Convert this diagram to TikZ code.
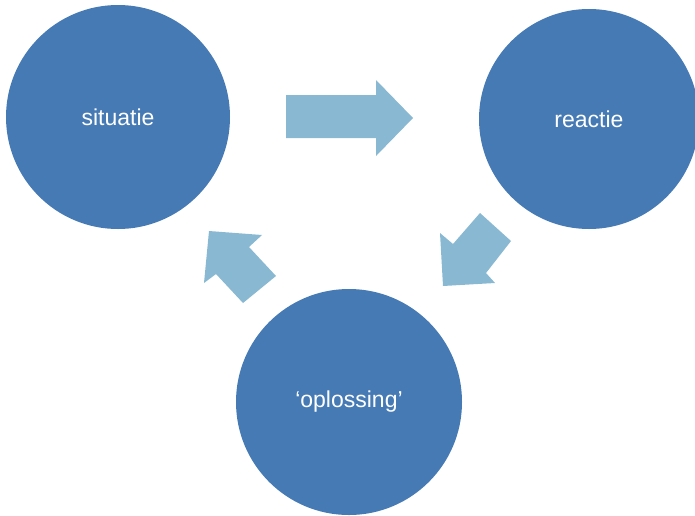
\documentclass[tikz,border=0pt]{standalone}
\usepackage{fontspec}
\setmainfont{Liberation Sans}
\definecolor{circ}{RGB}{70,122,180}
\definecolor{arr}{RGB}{136,184,210}
\tikzset{
  bub/.style={circle, fill=circ, text=white, font=\fontsize{23}{27}\selectfont, inner sep=0pt},
  arrowshape/.style={fill=arr, draw=none}
}
\begin{document}
\begin{tikzpicture}[x=1pt,y=-1pt]
\useasboundingbox (0,0) rectangle (695,515);
\node[bub, minimum size=224pt] (sit) at (118,117) {situatie};
\node[bub, minimum size=220pt] (rea) at (589,119) {reactie};
\node[bub, minimum size=226pt] (opl) at (349,402) {\raisebox{-3pt}{‘oplossing’}};
% top arrow
\fill[arrowshape] (286,95) -- (376,95) -- (376,80) -- (413,118) -- (376,156) -- (376,138) -- (286,138) -- cycle;
% right diagonal arrow
\fill[arrowshape] (480,213) -- (511,241) -- (486,273) -- (495,283) -- (443,286) -- (440,233) -- (453,244) -- cycle;
% left diagonal arrow
\fill[arrowshape] (209,231) -- (262,235) -- (249,247) -- (276,276) -- (243,303) -- (216,274) -- (204,283) -- cycle;
\end{tikzpicture}
\end{document}
